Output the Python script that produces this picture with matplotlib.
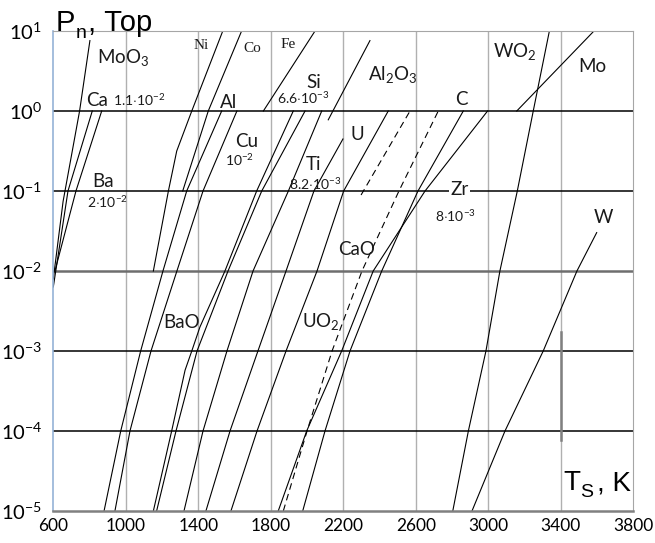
import numpy as np
import matplotlib
matplotlib.use("Agg")
import matplotlib.pyplot as plt

plt.rcParams['font.family'] = ['Lato', 'DejaVu Sans']
plt.rcParams['mathtext.fontset'] = 'custom'
plt.rcParams['mathtext.rm'] = 'Lato'
plt.rcParams['mathtext.it'] = 'Lato:italic'
plt.rcParams['mathtext.bf'] = 'Lato:bold'
plt.rcParams['axes.unicode_minus'] = False

# =============================================================================
# data: temperature T (K) at which lg P (Torr) reaches the given level
# =============================================================================
dec = [-5, -4, -3, -2, -1, 0]

moo3_lg = [-2.1, -1.13, 0, 0.88]
moo3_T = [600, 654, 745, 802]
ca_lg = [-2.2, -1, 0]
ca_T = [600, 681, 815]
ba_lg = [-2.0, -1, 0]
ba_T = [609, 725, 867]
ni_lg = [-2, -1, -0.5, 0, 1]
ni_T = [1152, 1235, 1281, 1364, 1535]
co_lg = [-1, 0, 1]
co_T = [1314, 1455, 1639]
fe_lg = [0, 1]
fe_T = [1759, 2044]
si_lg = [-0.11, 0.88]
si_T = [2117, 2347]
mo_lg = [0, 1]
mo_T = [3157, 3583]
wo2_lg = [-5, -4, -3, -2, -1, 0, 1]
wo2_T = [2804, 2890, 2987, 3064, 3160, 3248, 3337]
w_lg = [-5, -4, -3, -2, -1.52]
w_T = [2910, 3092, 3303, 3489, 3598]

al_T = [880, 972, 1082, 1205, 1336, 1529]
cu_T = [940, 1023, 1139, 1282, 1426, 1613]
bao_lg = [-5, -4, -3.24, -3, -2.7, -2, -1, 0]
bao_T = [1152, 1253, 1327, 1364, 1409, 1547, 1722, 1924]
ba2_T = [1170, 1277, 1393, 1564, 1750, 1989]
cu2_T = [1321, 1426, 1558, 1702, 1897, 2081]
ti_lg = [-5, -4, -3, -2, -1, -0.35]
ti_T = [1442, 1575, 1729, 1884, 2038, 2198]
u_T = [1580, 1724, 1884, 2055, 2202, 2448]
cao_T = [1841, 1998, 2191, 2365, 2651, 2996]
zr_T = [1976, 2099, 2237, 2412, 2612, 2862]
uo2_T = [1869, 2000, 2138, 2303, 2507, 2724]
uo2b_lg = [-1.05, 0]
uo2b_T = [2298, 2568]

xticks = [600, 1000, 1400, 1800, 2200, 2600, 3000, 3400, 3800]
ydec = [-5, -4, -3, -2, -1, 0, 1]

solid = [(moo3_T, moo3_lg), (ca_T, ca_lg), (ba_T, ba_lg), (ni_T, ni_lg),
         (co_T, co_lg), (fe_T, fe_lg), (si_T, si_lg), (mo_T, mo_lg),
         (wo2_T, wo2_lg), (w_T, w_lg), (al_T, dec), (cu_T, dec),
         (bao_T, bao_lg), (ba2_T, dec), (cu2_T, dec), (ti_T, ti_lg),
         (u_T, dec), (cao_T, dec), (zr_T, dec)]
dashed = [(uo2_T, dec), (uo2b_T, uo2b_lg)]

# =============================================================================
# plot
# =============================================================================
fig = plt.figure(figsize=(6.55, 5.43), dpi=100)
ax = fig.add_axes([53.3 / 655, 1 - 511 / 543, 580 / 655, 480 / 543])
ax.set_yscale('log')
ax.set_xlim(600, 3800)
ax.set_ylim(1e-5, 1e1)

for t in xticks[1:-1]:
    ax.axvline(t, color='#b0b0b0', lw=1.0, zorder=1)
for d in [-4, -3, -1, 0]:
    ax.axhline(10.0 ** d, color='black', lw=1.1, zorder=1)
ax.axhline(1e-2, color='#6e6e6e', lw=1.8, zorder=1)

for T, lg in solid:
    ax.plot(T, 10.0 ** np.array(lg), color='black', lw=0.8, zorder=2)
for T, lg in dashed:
    ax.plot(T, 10.0 ** np.array(lg), color='black', lw=0.8,
            ls=(0, (6, 4)), zorder=2)

# marker line at 3400 K
ax.plot([3400, 3400], [10 ** -2.76, 10 ** -4.11], color='#808080', lw=1.8, zorder=2)

ax.spines['left'].set_color('#95b3d7')
ax.spines['left'].set_linewidth(1.2)
ax.spines['right'].set_color('#a6a6a6')
ax.spines['top'].set_color('#a6a6a6')
ax.spines['bottom'].set_color('#808080')
ax.spines['bottom'].set_linewidth(1.8)

ax.set_xticks(xticks)
ax.set_xticklabels([str(t) for t in xticks], fontsize=12.5)
ax.set_yticks([10.0 ** d for d in ydec])
ax.set_yticklabels([r'$10^{%d}$' % d for d in ydec], fontsize=14.5)
ax.yaxis.set_minor_locator(matplotlib.ticker.NullLocator())
ax.tick_params(length=0, pad=5)
ax.tick_params(axis='y', pad=8)

# substance labels
kw = dict(ha='left', va='baseline', color='#1a1a1a', zorder=3)
def lab(T, lg, s, size=13.5, **extra):
    ax.text(T, 10 ** lg, s, fontsize=size, **kw, **extra)

lab(841, 0.60, r'MoO$_3$')
lab(780, 0.06, 'Ca')
lab(929, 0.06, r'1.1$\cdot$10$^{-2}$', 10)
lab(814, -0.95, 'Ba')
lab(786, -1.21, r'2$\cdot$10$^{-2}$', 10)
lab(1376, 0.775, 'Ni', 11, family='Liberation Serif')
lab(1646, 0.74, 'Co', 11, family='Liberation Serif')
lab(1856, 0.79, 'Fe', 11, family='Liberation Serif')
lab(1520, 0.04, 'Al')
lab(1602, -0.45, 'Cu')
lab(1547, -0.69, r'10$^{-2}$', 10)
lab(1994, 0.29, 'Si')
lab(1834, 0.09, r'6.6$\cdot$10$^{-3}$', 10)
lab(1994, -0.74, 'Ti')
lab(1900, -0.99, r'8.2$\cdot$10$^{-3}$', 10)
lab(2336, 0.39, r'Al$_2$O$_3$')
lab(2237, -0.36, 'U')
lab(2816, 0.075, 'C')
lab(3026, 0.675, r'WO$_2$')
lab(3495, 0.49, 'Mo')
lab(2789, -1.05, 'Zr', bbox=dict(facecolor='white', edgecolor='none', pad=1))
lab(2706, -1.39, r'8$\cdot$10$^{-3}$', 10)
lab(3581, -1.40, 'W')
lab(2171, -1.8, 'CaO')
lab(1205, -2.71, 'BaO')
lab(1972, -2.70, r'UO$_2$')

# axis titles
sans = ['Liberation Sans', 'DejaVu Sans']
fig.text(56 / 655, 1 - 31 / 543, 'P', fontsize=21, family=sans, va='baseline')
fig.text(76 / 655, 1 - 38 / 543, 'n', fontsize=14, family=sans, va='baseline')
fig.text(88 / 655, 1 - 31 / 543, ', Тор', fontsize=21, family=sans, va='baseline')
fig.text(563 / 655, 1 - 490 / 543, 'T', fontsize=20, family=sans, va='baseline')
fig.text(580 / 655, 1 - 497 / 543, 'S', fontsize=14, family=sans, va='baseline')
fig.text(597 / 655, 1 - 490 / 543, ', K', fontsize=20, family=sans, va='baseline')

fig.savefig('out.png', dpi=100)
